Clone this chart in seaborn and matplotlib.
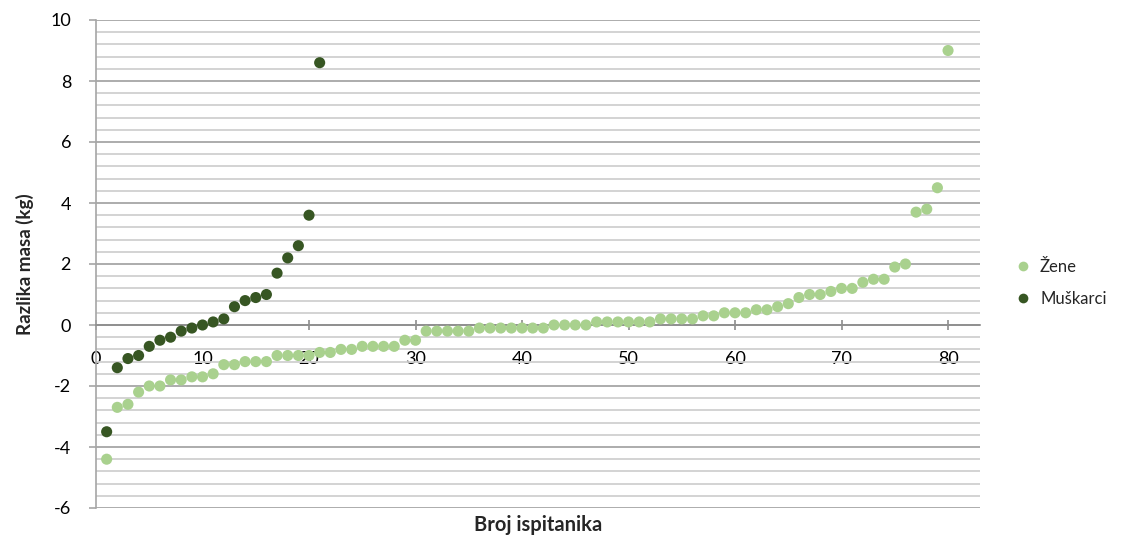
"""Razlika mase po ispitaniku: zene i muskarci, scatter u stilu Excel grafa."""

import matplotlib

matplotlib.use("Agg")
import matplotlib.pyplot as plt
import numpy as np
import pandas as pd
import seaborn as sns
from matplotlib.ticker import MultipleLocator

# Vrijednosti ocitane s grafa (kg), sortirane po ispitaniku.
ZENE = [
    -4.4, -2.7, -2.6, -2.2, -2.0, -2.0, -1.8, -1.8, -1.7, -1.7,
    -1.6, -1.3, -1.3, -1.2, -1.2, -1.2, -1.0, -1.0, -1.0, -1.0,
    -0.9, -0.9, -0.8, -0.8, -0.7, -0.7, -0.7, -0.7, -0.5, -0.5,
    -0.2, -0.2, -0.2, -0.2, -0.2, -0.1, -0.1, -0.1, -0.1, -0.1,
    -0.1, -0.1, 0.0, 0.0, 0.0, 0.0, 0.1, 0.1, 0.1, 0.1,
    0.1, 0.1, 0.2, 0.2, 0.2, 0.2, 0.3, 0.3, 0.4, 0.4,
    0.4, 0.5, 0.5, 0.6, 0.7, 0.9, 1.0, 1.0, 1.1, 1.2,
    1.2, 1.4, 1.5, 1.5, 1.9, 2.0, 3.7, 3.8, 4.5, 9.0,
]
MUSKARCI = [
    -3.5, -1.4, -1.1, -1.0, -0.7, -0.5, -0.4, -0.2, -0.1, 0.0,
    0.1, 0.2, 0.6, 0.8, 0.9, 1.0, 1.7, 2.2, 2.6, 3.6, 8.6,
]
SERIES = ["Žene", "Muškarci"]
COLORS = {"Žene": "#A9D18E", "Muškarci": "#375623"}
X_TICKS = [0, 10, 20, 30, 40, 50, 60, 70, 80]
Y_TICKS = [-6, -4, -2, 0, 2, 4, 6, 8, 10]

W, H = 1122, 538


def build_frame() -> pd.DataFrame:
    """Slozi oba niza u jednu dugu tablicu za seaborn."""
    parts = []
    for name, values in zip(SERIES, [ZENE, MUSKARCI]):
        parts.append(
            pd.DataFrame(
                {
                    "ispitanik": np.arange(1, len(values) + 1),
                    "razlika": values,
                    "spol": name,
                }
            )
        )
    return pd.concat(parts, ignore_index=True)


def main() -> None:
    frame = build_frame()

    sns.set_theme(style="white")
    plt.rcParams["font.family"] = ["Lato", "DejaVu Sans"]
    plt.rcParams["axes.unicode_minus"] = False

    fig = plt.figure(figsize=(W / 100, H / 100), dpi=100)
    ax = fig.add_axes([96 / W, 1 - 508 / H, 884 / W, 488 / H])

    sns.scatterplot(
        data=frame,
        x="ispitanik",
        y="razlika",
        hue="spol",
        hue_order=SERIES,
        palette=COLORS,
        s=64,
        linewidth=0,
        ax=ax,
        zorder=3,
        clip_on=False,
    )

    ax.set_xlim(0, 83)
    ax.set_ylim(-6, 10)
    ax.set_xticks(X_TICKS)
    ax.set_yticks(Y_TICKS)
    ax.yaxis.set_minor_locator(MultipleLocator(0.4))

    # Excel-ovske mreze: jace linije svakih 2 kg, slabije svakih 0.4 kg.
    ax.set_axisbelow(True)
    ax.grid(which="major", axis="y", color="#A6A6A6", linewidth=1.3)
    ax.grid(which="minor", axis="y", color="#D0D0D0", linewidth=1.3)
    ax.grid(which="major", axis="x", visible=False)

    # Os x prolazi kroz nulu, kao u originalu.
    ax.spines["bottom"].set_position(("data", 0))
    ax.spines["bottom"].set_color("#8C8C8C")
    ax.spines["bottom"].set_linewidth(1.2)
    ax.spines["left"].set_color("#A6A6A6")
    ax.spines["left"].set_linewidth(1.2)
    ax.spines["top"].set_visible(False)
    ax.spines["right"].set_visible(False)

    ax.tick_params(axis="x", which="major", direction="inout", length=7,
                   width=1.2, color="#8C8C8C", pad=15, labelsize=13,
                   labelcolor="black", bottom=True)
    ax.tick_params(axis="y", which="major", direction="out", length=5,
                   width=1.2, color="#A6A6A6", pad=13, labelsize=13,
                   labelcolor="black", left=True)
    ax.tick_params(axis="y", which="minor", left=False)

    ax.set_xlabel("Broj ispitanika", fontsize=14.5, fontweight="bold")
    ax.xaxis.set_label_coords(0.5, -0.015)
    ax.set_ylabel("Razlika masa (kg)", fontsize=13.5, fontweight="bold")
    ax.yaxis.set_label_coords(-0.07, 0.5)

    handles, labels = ax.get_legend_handles_labels()
    for handle in handles:
        handle.set_markersize(7)
    ax.legend(
        handles,
        labels,
        loc="center left",
        bbox_to_anchor=(1000 / W, 1 - 283 / H),
        bbox_transform=fig.transFigure,
        frameon=False,
        fontsize=12,
        handletextpad=0.0,
        labelspacing=1.0,
        borderaxespad=0,
    )

    fig.savefig("out.png", dpi=100)
    plt.close(fig)


if __name__ == "__main__":
    main()
